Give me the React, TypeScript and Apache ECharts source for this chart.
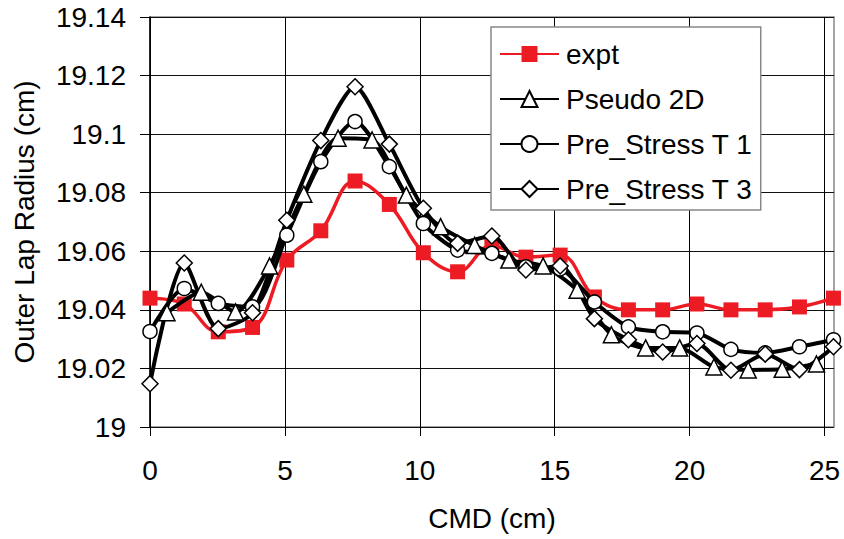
import React, { useEffect, useRef } from "react";
import * as echarts from "echarts";

const xMain = [0, 1.27, 2.53, 3.8, 5.07, 6.33, 7.6, 8.87, 10.13, 11.4, 12.67, 13.93, 15.2, 16.47, 17.73, 19, 20.27, 21.53, 22.8, 24.07, 25.33];
const xHalf = [0.63, 1.9, 3.17, 4.43, 5.7, 6.97, 8.23, 9.5, 10.77, 12.03, 13.3, 14.57, 15.83, 17.1, 18.37, 19.63, 20.9, 22.17, 23.43, 24.7];

const expt = [19.044, 19.042, 19.0325, 19.034, 19.057, 19.067, 19.084, 19.076, 19.0595, 19.053, 19.062, 19.058, 19.0587, 19.0444, 19.04, 19.04, 19.042, 19.04, 19.04, 19.041, 19.044];
const pseudo2D = [19.039, 19.046, 19.0393, 19.055, 19.0795, 19.0986, 19.098, 19.0792, 19.0684, 19.062, 19.057, 19.055, 19.0467, 19.0315, 19.027, 19.027, 19.0205, 19.0195, 19.0197, 19.0215];
const preStressT1 = [19.0326, 19.0473, 19.0422, 19.041, 19.0655, 19.0906, 19.1043, 19.0889, 19.0695, 19.0604, 19.0593, 19.0547, 19.054, 19.0427, 19.0342, 19.0325, 19.0321, 19.0265, 19.0253, 19.0274, 19.0298];
const preStressT3 = [19.0148, 19.056, 19.0336, 19.039, 19.0706, 19.0978, 19.1162, 19.0966, 19.0747, 19.0627, 19.0652, 19.0536, 19.055, 19.037, 19.0298, 19.0256, 19.0285, 19.0194, 19.0249, 19.0196, 19.0274];

const yTicks = [19, 19.02, 19.04, 19.06, 19.08, 19.1, 19.12, 19.14];
const xTicks = [0, 5, 10, 15, 20, 25];

const FONT = "'Liberation Sans', Arial, sans-serif";
const RED = "#ED1C24";

function pairs(xs: number[], ys: number[]) {
  return ys.map((y, i) => [xs[i], y]);
}

export default function App() {
  const ref = useRef<HTMLDivElement>(null);
  useEffect(() => {
    if (!ref.current) return;
    const chart = echarts.init(ref.current, undefined, { renderer: "svg" });
    const blackLine = (name: string, xs: number[], ys: number[], symbol: string, size: number) => ({
      name,
      type: "line",
      data: pairs(xs, ys),
      symbol,
      symbolSize: size,
      showAllSymbol: true,
      smooth: 0.25,
      lineStyle: { color: "#000", width: 4 },
      itemStyle: { color: "#fff", borderColor: "#000", borderWidth: 1.5 },
      z: 3,
    });
    chart.setOption({
      animation: false,
      backgroundColor: "#fff",
      textStyle: { fontFamily: FONT },
      grid: {
        left: 150,
        right: 10,
        top: 17,
        bottom: 112,
        show: true,
        borderColor: "#888",
        borderWidth: 1.5,
        backgroundColor: "transparent",
      },
      legend: {
        orient: "vertical",
        left: 491,
        top: 27,
        itemWidth: 59,
        itemHeight: 20,
        itemGap: 17,
        padding: [13, 8, 7, 8],
        backgroundColor: "#fff",
        borderColor: "#888",
        borderWidth: 1.5,
        borderRadius: 0,
        textStyle: { fontSize: 28, color: "#000", fontFamily: FONT, padding: [0, 0, 0, 2] },
        data: ["expt", "Pseudo 2D", "Pre_Stress T 1", "Pre_Stress T 3"],
      },
      xAxis: {
        type: "value",
        min: 0,
        max: 25.35,
        interval: 5,
        name: "CMD (cm)",
        nameLocation: "middle",
        nameGap: 77,
        nameTextStyle: { fontSize: 28, color: "#000", fontFamily: FONT },
        axisLine: { show: false },
        axisTick: { show: true, length: 9, lineStyle: { color: "#000", width: 1 }, customValues: xTicks },
        axisLabel: { fontSize: 28, color: "#000", margin: 29, fontFamily: FONT, customValues: xTicks },
        splitLine: { show: true, lineStyle: { color: "#000", width: 1 } },
      },
      yAxis: {
        type: "value",
        min: 19,
        max: 19.14,
        interval: 0.02,
        name: "Outer Lap Radius (cm)",
        nameLocation: "middle",
        nameGap: 112,
        nameTextStyle: { fontSize: 28, color: "#000", fontFamily: FONT },
        axisLine: { show: true, lineStyle: { color: "#000", width: 1.5 } },
        axisTick: { show: true, length: 10, lineStyle: { color: "#000", width: 1 } },
        axisLabel: {
          fontSize: 28,
          color: "#000",
          margin: 24,
          fontFamily: FONT,
          formatter: (v: number) => {
            const found = yTicks.find((t) => Math.abs(t - v) < 1e-9);
            return found !== undefined ? String(Number(found.toFixed(2))) : "";
          },
        },
        splitLine: { show: true, lineStyle: { color: "#111", width: 1.2 } },
      },
      series: [
        {
          name: "expt",
          type: "line",
          data: pairs(xMain, expt),
          symbol: "rect",
          symbolSize: 15,
          showAllSymbol: true,
          smooth: 0.4,
          lineStyle: { color: RED, width: 3.5 },
          itemStyle: { color: RED, borderColor: RED, borderWidth: 0 },
          z: 2,
        },
        blackLine("Pseudo 2D", xHalf, pseudo2D, "triangle", 16),
        blackLine("Pre_Stress T 1", xMain, preStressT1, "circle", 14),
        blackLine("Pre_Stress T 3", xMain, preStressT3, "diamond", 16),
      ],
    });
    return () => chart.dispose();
  }, []);
  return <div ref={ref} style={{ width: 844, height: 539, position: "absolute", left: 0, top: 0 }} />;
}
